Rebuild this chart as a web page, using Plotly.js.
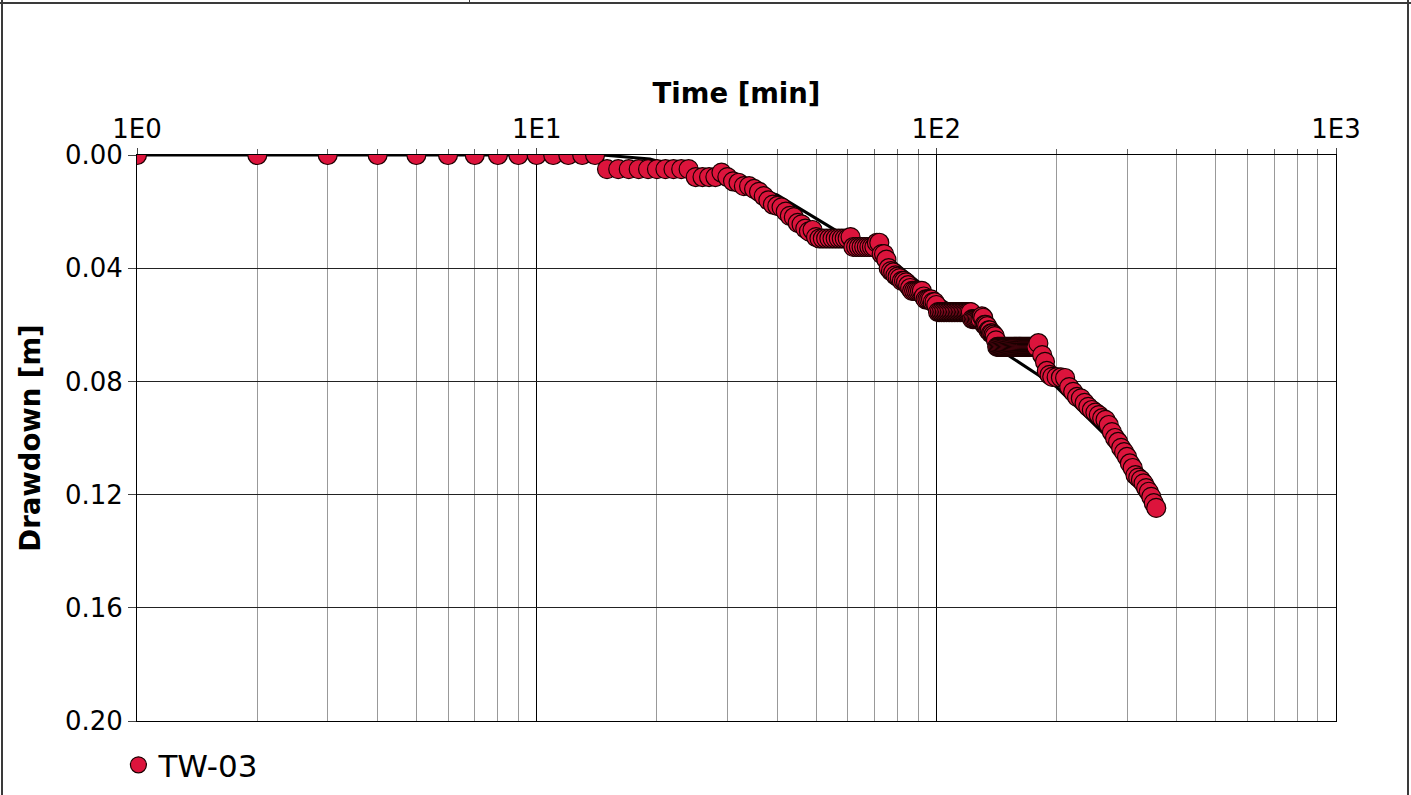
<!DOCTYPE html>
<html><head><meta charset="utf-8">
<script src="https://cdn.plot.ly/plotly-3.0.1.min.js"></script>
<style>
html,body{margin:0;padding:0;background:#fff;}
#wrap{position:relative;width:1411px;height:795px;overflow:hidden;}
#chart{position:absolute;left:0;top:0;width:1411px;height:795px;}
.b{position:absolute;background:#3a3a3a;}
</style></head><body>
<div id="wrap"><div id="chart"></div>
<div class="b" style="left:0;top:2px;width:1411px;height:2px"></div>
<div class="b" style="left:1px;top:0;width:2px;height:795px"></div>
<div class="b" style="left:469px;top:0;width:1px;height:4px"></div>
<div class="b" style="left:1407px;top:0;width:2px;height:795px"></div>
</div>
<script>
// Observed drawdown, well TW-03
const seriesName = 'TW-03';
const times = [
  1,2,3,4,5,6,7,8,9,10,
  11,12,13,14,15,16,17,18,19,20,
  21,22,23,24,25,26,27,28,29,30,
  31,32,33,34,35,36,37,38,39,40,
  41,42,43,44,45,46,47,48,49,50,
  51,52,53,54,55,56,57,58,59,60,
  61,62,63,64,65,66,67,68,69,70,
  71,72,73,74,75,76,77,78,79,80,
  81,82,83,84,85,86,87,88,89,90,
  91,92,93,94,95,96,97,98,99,100,
  101,102,103,104,105,106,107,108,109,110,
  111,112,113,114,115,116,117,118,119,120,
  121,122,123,124,125,126,127,128,129,130,
  131,132,133,134,135,136,137,138,139,140,
  141,142,143,144,145,146,147,148,149,150,
  151,152,153,154,155,156,157,158,159,160,
  161,162,163,164,165,166,167,168,169,170,
  171,172,173,174,175,176,177,178,180,184,
  187,189,192,195,200,205,210,215,220,225,
  230,235,240,245,250,255,260,265,270,275,
  280,285,290,295,300,305,310,315,320,325,
  330,335,340,345,350,355
];
const drawdown = [
  0,0,0,0,0,0,0,0,0,0,
  0,0,0,0,0.005,0.005,0.005,0.005,0.005,0.005,
  0.005,0.005,0.005,0.005,0.0078,0.0078,0.0078,0.0078,0.0062,0.0078,
  0.0093,0.0098,0.011,0.011,0.012,0.013,0.0145,0.016,0.0175,0.018,
  0.0185,0.020,0.0215,0.022,0.024,0.0245,0.026,0.027,0.0265,0.029,
  0.0295,0.0295,0.0295,0.0295,0.0295,0.0295,0.0295,0.0295,0.0295,0.0295,
  0.029,0.0325,0.0325,0.0325,0.0325,0.0325,0.0325,0.0325,0.0325,0.0325,
  0.031,0.031,0.035,0.035,0.037,0.040,0.041,0.0415,0.0425,0.043,
  0.0435,0.0445,0.0445,0.045,0.046,0.047,0.048,0.048,0.048,0.048,
  0.048,0.048,0.050,0.051,0.051,0.051,0.051,0.052,0.052,0.053,
  0.0555,0.0555,0.0555,0.0555,0.0555,0.0555,0.0555,0.0555,0.0555,0.0555,
  0.0555,0.0555,0.0555,0.0555,0.0555,0.0555,0.0555,0.0555,0.0555,0.0555,
  0.0555,0.0555,0.058,0.058,0.058,0.058,0.058,0.058,0.058,0.057,
  0.0575,0.060,0.060,0.0605,0.062,0.062,0.063,0.063,0.0635,0.064,
  0.0655,0.0678,0.0678,0.0678,0.0678,0.0678,0.0678,0.0678,0.0678,0.0678,
  0.0678,0.0678,0.0678,0.0678,0.0678,0.0678,0.0678,0.0678,0.0678,0.0678,
  0.0678,0.0678,0.0678,0.0678,0.0678,0.0678,0.0678,0.0678,0.0678,0.0678,
  0.0678,0.0678,0.0678,0.0678,0.0678,0.0678,0.0678,0.0678,0.0665,0.0707,
  0.0731,0.0763,0.0777,0.0784,0.0785,0.0786,0.0788,0.082,0.0837,0.0855,
  0.086,0.0876,0.089,0.0901,0.091,0.0919,0.093,0.0936,0.0954,0.0979,
  0.100,0.1014,0.1035,0.105,0.1067,0.109,0.1106,0.1131,0.114,0.1148,
  0.116,0.1177,0.119,0.1208,0.123,0.1247
];
// Fitted curve (black line)
const fitTimes = [1, 14.6, 19.2, 40, 56.4, 72, 100, 114, 147, 200, 272, 300, 330];
const fitDrawdown = [0, 0, 0.0014, 0.0141, 0.0269, 0.0336, 0.050, 0.0548, 0.0696, 0.082, 0.1007, 0.106, 0.113];

// Axis ticks
const xTickVals = [1, 10, 100, 1000];
const xTickText = ['1E0', '1E1', '1E2', '1E3'];
const xMinorVals = [2,3,4,5,6,7,8,9,20,30,40,50,60,70,80,90,200,300,400,500,600,700,800,900];
const yTickVals = [0, 0.04, 0.08, 0.12, 0.16, 0.20];

const FONT = 'DejaVu Sans, Verdana, sans-serif';

const traces = [
  {
    x: fitTimes, y: fitDrawdown, type: 'scatter', mode: 'lines',
    line: {color: '#000', width: 3}, showlegend: false, hoverinfo: 'skip'
  },
  {
    x: times, y: drawdown, type: 'scatter', mode: 'markers', name: seriesName,
    marker: {color: '#dc143c', size: 19, line: {color: '#1a0000', width: 1.2}}
  }
];

const layout = {
  width: 1411, height: 795,
  margin: {l: 137, r: 75, t: 155, b: 74, autoexpand: false},
  paper_bgcolor: '#fff', plot_bgcolor: '#fff',
  font: {family: FONT, size: 26, color: '#000'},
  showlegend: true,
  legend: {
    orientation: 'h', x: -0.0155, y: -0.078, xanchor: 'left', yanchor: 'middle',
    font: {family: FONT, size: 31, color: '#000'}, bgcolor: 'rgba(0,0,0,0)'
  },
  xaxis: {
    type: 'log', side: 'top', range: [0, 3], autorange: false,
    tickmode: 'array', tickvals: xTickVals, ticktext: xTickText,
    ticks: 'outside', ticklen: 6, tickcolor: '#444', tickwidth: 1,
    tickfont: {family: FONT, size: 26, color: '#000'},
    showgrid: true, gridcolor: '#000', gridwidth: 1,
    showline: true, linecolor: '#000', linewidth: 1, mirror: true,
    zeroline: false, automargin: false,
    title: {text: 'Time [min]', font: {family: FONT, size: 27.5, weight: 'bold', color: '#000'}, standoff: 1},
    minor: {tickmode: 'array', tickvals: xMinorVals, ticks: 'outside', ticklen: 5, tickcolor: '#666',
            showgrid: true, gridcolor: '#999', gridwidth: 1}
  },
  yaxis: {
    range: [0.2, 0], autorange: false,
    tickmode: 'array', tickvals: yTickVals, tickformat: '.2f',
    ticks: 'outside', ticklen: 8, tickcolor: '#444', tickwidth: 1,
    tickfont: {family: FONT, size: 26, color: '#000'},
    showgrid: true, gridcolor: '#222', gridwidth: 1,
    showline: true, linecolor: '#000', linewidth: 1, mirror: true,
    zeroline: false, automargin: false,
    title: {text: 'Drawdown [m]', font: {family: FONT, size: 27.5, weight: 'bold', color: '#000'}, standoff: 16}
  }
};

Plotly.newPlot('chart', traces, layout, {displayModeBar: false, staticPlot: true});
</script>
</body></html>
